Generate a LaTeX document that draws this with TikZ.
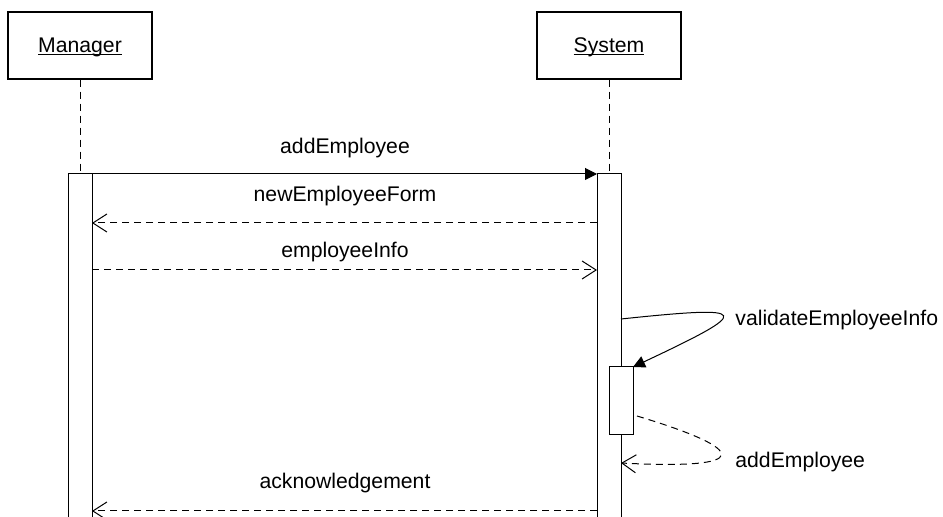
\documentclass[tikz,border=0pt]{standalone}
\usepackage{fontspec}
\setmainfont{Liberation Sans}
\usetikzlibrary{arrows.meta}

% underline that sits just under the baseline
\newcommand\objname[1]{\setbox0\hbox{#1}\rlap{\rule[-1.1pt]{\wd0}{0.5pt}}\box0}

\tikzset{
  obj/.style={draw, line width=0.6pt, fill=white, minimum width=72pt,
    minimum height=33.5pt, inner sep=0pt, text depth=0pt,
    font=\fontsize{10.6}{12.7}\selectfont},
  msg/.style={inner sep=0pt, font=\fontsize{10.6}{12.7}\selectfont},
  act/.style={draw, line width=0.5pt, fill=white},
  life/.style={dash pattern=on 3.5pt off 2.5pt, line width=0.5pt},
  call/.style={-{Triangle[length=6pt,width=6pt]}, line width=0.5pt},
  reply/.style={-{Straight Barb[length=7pt,width=9pt]},
    dash pattern=on 3.5pt off 2.5pt, line width=0.5pt},
}

\begin{document}
\begin{tikzpicture}[x=0.5pt,y=-0.5pt]
    \useasboundingbox (0,0) rectangle (943,517);

    % Objects
    \node[obj] (manager) at (80,45.5) {\objname{Manager}};
    \node[obj] (system) at (609,45.5) {\objname{System}};

    % Lifelines
    \coordinate (mtop) at (80,174);
    \coordinate (stop) at (609,174);
    \draw[life] (manager.south) -- (mtop);
    \draw[life] (system.south) -- (stop);

    % Activations (they run past the bottom edge)
    \begin{scope}
        \clip (0,0) rectangle (943,517);
        \draw[act] (68,174) rectangle (92,530);
        \draw[act] (597,174) rectangle (621,530);
    \end{scope}
    \draw[act] (609,367) rectangle (633,435);

    % Message end points
    \coordinate (m1) at (92,174);
    \coordinate (s1) at (597,174);
    \coordinate (m2) at (92,223);
    \coordinate (s2) at (597,223);
    \coordinate (m3) at (92,270);
    \coordinate (s3) at (597,270);
    \coordinate (m4) at (92,511);
    \coordinate (s4) at (597,511);
    \coordinate (v0) at (621,319);
    \coordinate (v1) at (633,367);
    \coordinate (r0) at (637,416);
    \coordinate (r1) at (621,463);

    % Messages
    \draw[call] (m1) -- (s1);
    \node[msg, anchor=base] (addemp) at (345,154) {addEmployee};

    \draw[reply] (s2) -- (m2);
    \node[msg, anchor=base] (newform) at (345,202) {newEmployeeForm};

    \draw[reply] (m3) -- (s3);
    \node[msg, anchor=base] (empinfo) at (345,258) {employeeInfo};

    \draw[call] (v0) .. controls (754,305) and (754,310) .. (v1);
    \node[msg, anchor=base west] (validate) at (735,326) {validateEmployeeInfo};

    \draw[reply] (r0) .. controls (750,450) and (754,470) .. (r1);
    \node[msg, anchor=base west] (addself) at (735,468) {addEmployee};

    \draw[reply] (s4) -- (m4);
    \node[msg, anchor=base] (ack) at (345,489) {acknowledgement};

\end{tikzpicture}
\end{document}
